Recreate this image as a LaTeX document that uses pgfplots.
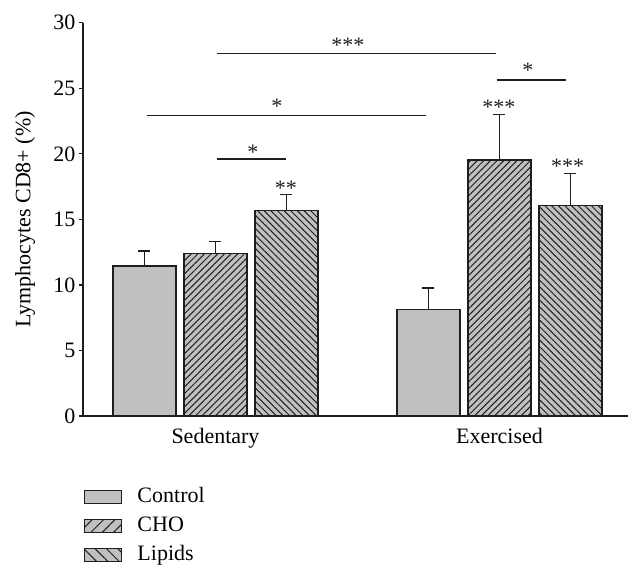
\documentclass[border=0pt]{standalone}
\usepackage{pgfplots}
\pgfplotsset{compat=1.18}
\usepackage{fontspec}
\setmainfont{Liberation Serif}
\usetikzlibrary{patterns.meta,calc}
\definecolor{barfill}{RGB}{192,192,192}
\definecolor{ink}{RGB}{30,30,30}
\pgfplotsset{boxlegend/.style={legend image code/.code={\draw[##1] (0bp,-6.5bp) rectangle (37bp,6.5bp); \path (52bp,0bp);}}}
\begin{document}
\begin{tikzpicture}[font=\fontsize{22bp}{26bp}\selectfont,
  star/.style={anchor=base, yshift=-10.3bp, inner sep=0pt, text=ink}]
\begin{axis}[
  scale only axis, width=545bp, height=393.3bp,
  xmin=-0.866, xmax=6.81, ymin=0, ymax=30,
  clip=false,
  axis x line*=bottom, axis y line*=left,
  axis line style={line width=1.5bp, draw=ink, -},
  xtick={1,5}, xticklabels={Sedentary,Exercised},
  x tick style={draw=none},
  ytick={0,5,...,30},
  y tick style={line width=1.3bp, draw=ink},
  tick align=outside, major tick length=4bp,
  /pgf/number format/assume math mode=true,
  xticklabel style={yshift=-5bp},
  every axis y label/.style={at={(axis description cs:-0.1064,0.5)}, rotate=90, anchor=center},
  ylabel={Lymphocytes CD8+ (\%)},
  legend style={at={(axis description cs:0,0)}, anchor=north west, xshift=1bp, yshift=-71bp,
    draw=none, fill=none, inner sep=0pt, row sep=9bp,
    nodes={inner sep=0pt, text height=15bp, text depth=5bp}},
  legend cell align=left,
]
\coordinate (O) at (rel axis cs:0,0);
% Control
\addplot[ybar, bar width=0.887, bar shift=0pt, fill=barfill, draw=ink, line width=1.3bp, forget plot]
  coordinates {(0,11.44) (4,8.13)};
% CHO
\addplot[ybar, bar width=0.887, bar shift=0pt, fill=barfill, draw=ink, line width=1.3bp, forget plot,
  postaction={pattern={Lines[angle=45,distance=4.7bp,line width=1bp]}, pattern color=ink, draw=ink}]
  coordinates {(1,12.40) (5,19.53)};
% Lipids
\addplot[ybar, bar width=0.887, bar shift=0pt, fill=barfill, draw=ink, line width=1.3bp, forget plot,
  postaction={pattern={Lines[angle=-45,distance=4.7bp,line width=1bp]}, pattern color=ink, draw=ink}]
  coordinates {(2,15.66) (6,16.07)};
% error bars
\addplot[draw=none, mark=none, forget plot,
  error bars/.cd, y dir=plus, y explicit, error mark=|,
  error bar style={draw=ink, line width=1.6bp, solid},
  error mark options={draw=ink, line width=1.6bp, mark size=6bp, solid}]
  coordinates {(0,11.44) +- (0,1.16) (1,12.40) +- (0,0.90) (2,15.66) +- (0,1.24)
               (4,8.13) +- (0,1.63) (5,19.53) +- (0,3.47) (6,16.07) +- (0,2.43)};
\addlegendimage{boxlegend, fill=barfill, draw=ink, line width=1.3bp}
\addlegendentry{Control}
\addlegendimage{boxlegend, fill=barfill, draw=ink, line width=1.3bp,
  postaction={pattern={Lines[angle=45,distance=8bp,line width=1bp]}, pattern color=ink, draw=ink}}
\addlegendentry{CHO}
\addlegendimage{boxlegend, fill=barfill, draw=ink, line width=1.3bp,
  postaction={pattern={Lines[angle=-45,distance=8bp,line width=1bp]}, pattern color=ink, draw=ink}}
\addlegendentry{Lipids}
% significance lines
\draw[ink, line width=1.5bp] (axis cs:1.02,27.66) -- (axis cs:4.95,27.66);
\draw[ink, line width=1.5bp] (axis cs:0.03,22.93) -- (axis cs:3.96,22.93);
\draw[ink, line width=1.5bp] (axis cs:1.02,19.6) -- (axis cs:1.99,19.6);
\draw[ink, line width=1.5bp] (axis cs:4.96,25.63) -- (axis cs:5.93,25.63);
\node[star] at (axis cs:2.866,28.55) {***};
\node[star] at (axis cs:1.866,23.87) {*};
\node[star] at (axis cs:1.528,20.37) {*};
\node[star] at (axis cs:1.99,17.62) {**};
\node[star] at (axis cs:5.40,26.57) {*};
\node[star] at (axis cs:4.99,23.8) {***};
\node[star] at (axis cs:5.96,19.3) {***};
\end{axis}
\pgfresetboundingbox
\path[use as bounding box] ($(O)+(-83bp,-162bp)$) rectangle ($(O)+(560bp,416bp)$);
\end{tikzpicture}
\end{document}
